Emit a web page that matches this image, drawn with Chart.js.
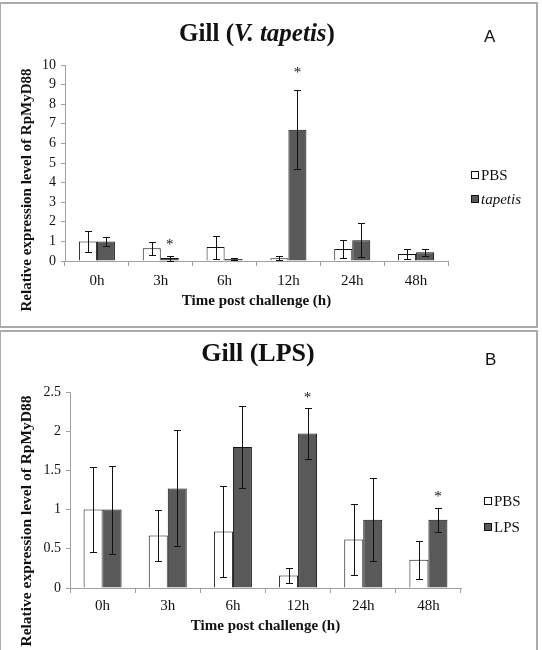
<!DOCTYPE html>
<html><head><meta charset="utf-8">
<script src="https://cdn.jsdelivr.net/npm/chart.js@4"></script>
<style>
html,body{margin:0;padding:0;background:#fff;width:542px;height:650px;overflow:hidden;position:relative;}
canvas{position:absolute;left:0;}
.panel{position:absolute;box-sizing:border-box;border:2px solid #ababab;pointer-events:none;}
</style></head><body>
<canvas id="cA" width="542" height="328" style="top:0px"></canvas>
<canvas id="cB" width="542" height="322" style="top:328px"></canvas>
<div class="panel" style="left:-1px;top:2px;width:539px;height:326px"></div>
<div class="panel" style="left:-1px;top:330px;width:539px;height:330px"></div>
<script>
// ---------- data ----------
const timeLabels = ['0h','3h','6h','12h','24h','48h'];

// Panel A: Gill (V. tapetis)
const gillV_PBS      = [1.00, 0.65, 0.71, 0.14, 0.61, 0.36];
const gillV_PBS_err  = [0.54, 0.32, 0.59, 0.10, 0.45, 0.25];
const gillV_tap      = [1.00, 0.15, 0.10, 6.70, 1.06, 0.45];
const gillV_tap_err  = [0.24, 0.13, 0.07, 2.00, 0.88, 0.17];
const gillV_stars    = [null, 0.98, null, 9.74, null, null];   // asterisk heights over tapetis bars

// Panel B: Gill (LPS)
const gillL_PBS      = [1.00, 0.67, 0.72, 0.16, 0.62, 0.36];
const gillL_PBS_err  = [0.54, 0.32, 0.58, 0.09, 0.45, 0.24];
const gillL_LPS      = [1.00, 1.27, 1.80, 1.97, 0.87, 0.87];
const gillL_LPS_err  = [0.56, 0.74, 0.52, 0.33, 0.53, 0.15];
const gillL_stars    = [null, null, null, 2.46, null, 1.20];  // asterisk heights over LPS bars

const yMaxA = 10, yStepA = 1;
const yMaxB = 2.5, yStepB = 0.5;

const SERIF = "'Liberation Serif','Times New Roman',serif";
const SANS = "'Liberation Sans',Arial,sans-serif";
const AXIS = '#a0a0a0';
const DARK = '#595959';
const INK = '#111';

const decor = {
  id: 'decor',
  afterDatasetsDraw(chart, args, o) {
    const ctx = chart.ctx, ys = chart.scales.y;
    ctx.save();
    ctx.strokeStyle = INK; ctx.lineWidth = 1;
    chart.data.datasets.forEach((ds, i) => {
      const meta = chart.getDatasetMeta(i);
      meta.data.forEach((bar, j) => {
        const v = ds.data[j], e = ds.errors[j];
        const x = Math.round(bar.x) + 0.5;
        const yt = Math.round(ys.getPixelForValue(v + e)) + 0.5;
        const yb = Math.round(ys.getPixelForValue(Math.max(0, v - e))) + 0.5;
        ctx.beginPath();
        ctx.moveTo(x, yt); ctx.lineTo(x, yb);
        ctx.moveTo(x - 3.5, yt); ctx.lineTo(x + 3.5, yt);
        ctx.moveTo(x - 3.5, yb); ctx.lineTo(x + 3.5, yb);
        ctx.stroke();
      });
    });
    // asterisks
    const meta2 = chart.getDatasetMeta(1);
    ctx.fillStyle = INK;
    ctx.font = '15px ' + SERIF;
    ctx.textAlign = 'center'; ctx.textBaseline = 'alphabetic';
    o.stars.forEach((s, j) => {
      if (s == null) return;
      const x = meta2.data[j].x;
      ctx.fillText('*', x, ys.getPixelForValue(s) + 7);
    });
    ctx.restore();
  },
  afterDraw(chart, args, o) {
    const ctx = chart.ctx, ca = chart.chartArea;
    ctx.save();
    ctx.fillStyle = INK;
    ctx.textBaseline = 'alphabetic';
    let total = 0;
    o.title.forEach(p => { ctx.font = (p.italic ? 'italic ' : '') + 'bold ' + o.titleSize + 'px ' + SERIF; p.w = ctx.measureText(p.t).width; total += p.w; });
    let tx = o.titleX - total / 2;
    ctx.textAlign = 'left';
    o.title.forEach(p => { ctx.font = (p.italic ? 'italic ' : '') + 'bold ' + o.titleSize + 'px ' + SERIF; ctx.fillText(p.t, tx, o.titleY); tx += p.w; });
    ctx.font = '17px ' + SANS;
    ctx.fillText(o.letter, o.letterX, o.letterY);
    ctx.font = 'bold 15px ' + SERIF;
    ctx.textAlign = 'center';
    ctx.fillText('Time post challenge (h)', (ca.left + ca.right) / 2, o.xTitleY);
    ctx.save();
    ctx.translate(o.yTitleX, o.yTitleY);
    ctx.rotate(-Math.PI / 2);
    ctx.font = 'bold ' + o.yTitleSize + 'px ' + SERIF;
    ctx.fillText('Relative expression level of RpMyD88', 0, 0);
    ctx.restore();
    ctx.textAlign = 'left';
    chart.data.datasets.forEach((ds, i) => {
      const by = o.legY + i * o.legGap;
      ctx.fillStyle = ds.backgroundColor;
      ctx.fillRect(o.legX + 0.5, by - 8.5, 7, 7);
      ctx.strokeStyle = INK; ctx.lineWidth = 1;
      ctx.strokeRect(o.legX + 0.5, by - 8.5, 7, 7);
      ctx.fillStyle = INK;
      ctx.font = (ds.italicLegend ? 'italic ' : '') + '15px ' + SERIF;
      ctx.fillText(ds.label, o.legX + 10, by);
    });
    ctx.restore();
  }
};

function makeChart(id, c) {
  return new Chart(document.getElementById(id), {
    type: 'bar',
    data: {
      labels: timeLabels,
      datasets: [
        { label: 'PBS', data: c.s1, errors: c.e1, backgroundColor: '#ffffff', borderColor: INK, borderWidth: 1,
          barPercentage: 1, categoryPercentage: c.cat },
        { label: c.name2, data: c.s2, errors: c.e2, backgroundColor: DARK, borderColor: INK, borderWidth: 1,
          barPercentage: 1, categoryPercentage: c.cat, italicLegend: c.italic2 }
      ]
    },
    options: {
      responsive: false, animation: false, devicePixelRatio: 1,
      layout: { padding: { left: 0, right: c.padR, top: c.padT, bottom: 0 } },
      plugins: { legend: { display: false }, tooltip: { enabled: false }, title: { display: false }, decor: c.decor },
      scales: {
        x: {
          grid: { offset: true, drawOnChartArea: false, drawTicks: true, tickLength: 5, color: AXIS },
          border: { color: AXIS },
          ticks: { font: { family: SERIF, size: c.xFont }, color: INK, padding: c.xPad },
          afterFit: s => { s.height = c.xH; }
        },
        y: {
          min: 0, max: c.max,
          grid: { drawOnChartArea: false, drawTicks: true, tickLength: 4, color: AXIS },
          border: { color: AXIS },
          ticks: { stepSize: c.step, autoSkip: false, font: { family: SERIF, size: c.yFont }, color: INK, padding: 5,
                   callback: v => String(+Number(v).toFixed(1)) },
          afterFit: s => { s.width = c.yW; }
        }
      }
    },
    plugins: [decor]
  });
}

makeChart('cA', {
  s1: gillV_PBS, e1: gillV_PBS_err, s2: gillV_tap, e2: gillV_tap_err, name2: 'tapetis', italic2: true,
  cat: 0.564, max: yMaxA, step: yStepA, padR: 94, padT: 65, xH: 67, yW: 65, xFont: 15, yFont: 14, xPad: 6,
  decor: {
    stars: gillV_stars,
    title: [{ t: 'Gill (' }, { t: 'V. tapetis', italic: true }, { t: ')' }],
    titleSize: 25, titleX: 257, titleY: 41, letter: 'A', letterX: 484, letterY: 42,
    xTitleY: 305, yTitleX: 31, yTitleY: 190, yTitleSize: 15,
    legX: 471, legY: 180, legGap: 24
  }
});

makeChart('cB', {
  s1: gillL_PBS, e1: gillL_PBS_err, s2: gillL_LPS, e2: gillL_LPS_err, name2: 'LPS', italic2: false,
  cat: 0.583, max: yMaxB, step: yStepB, padR: 81, padT: 64, xH: 62, yW: 70, xFont: 15, yFont: 14, xPad: 4,
  decor: {
    stars: gillL_stars,
    title: [{ t: 'Gill (LPS)' }],
    titleSize: 26, titleX: 258, titleY: 33, letter: 'B', letterX: 485, letterY: 37,
    xTitleY: 302, yTitleX: 31, yTitleY: 193, yTitleSize: 15.5,
    legX: 484, legY: 178, legGap: 26
  }
});
</script>
</body></html>
